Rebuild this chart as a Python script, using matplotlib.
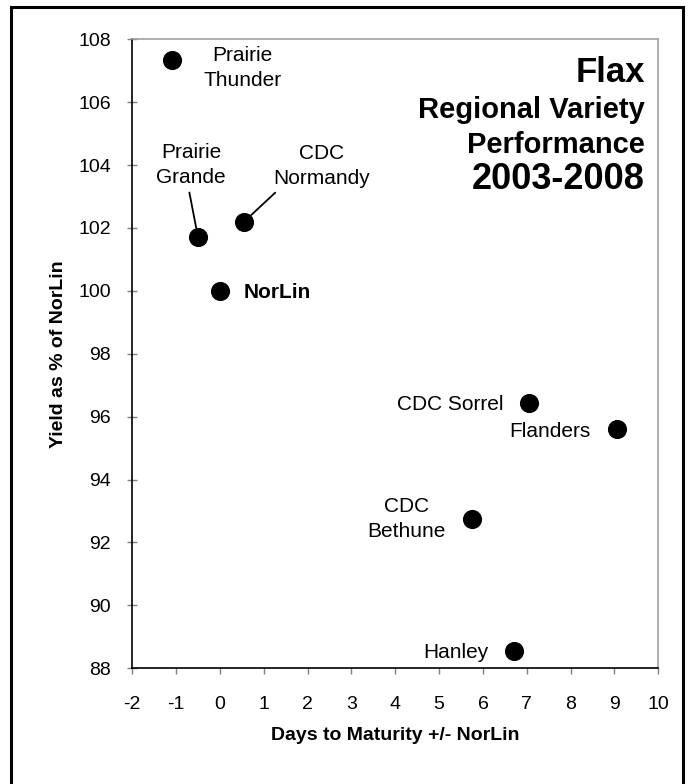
import matplotlib
matplotlib.use("Agg")
import matplotlib.pyplot as plt
from matplotlib.patches import Rectangle

plt.rcParams["font.family"] = ["Liberation Sans", "DejaVu Sans"]
plt.rcParams["axes.unicode_minus"] = False

# values
varieties = ["Prairie\nThunder", "Prairie\nGrande", "CDC\nNormandy", "NorLin",
             "CDC Sorrel", "Flanders", "CDC\nBethune", "Hanley"]
days = [-1.1, -0.5, 0.55, 0.0, 7.05, 9.05, 5.75, 6.7]
yields = [107.35, 101.7, 102.2, 100.0, 96.45, 95.6, 92.75, 88.55]

x_ticks = list(range(-2, 11))
y_ticks = list(range(88, 109, 2))

title_lines = ["Flax", "Regional Variety", "Performance", "2003-2008"]

# label placement: offset (points), alignment, leader line
label_style = {
    "Prairie\nThunder": dict(xy=(51, -6), ha="center", va="center"),
    "Prairie\nGrande": dict(xy=(-5, 52), ha="center", va="center",
                            lead=dict(relpos=(0.46, 0.0), shrinkA=2, shrinkB=7)),
    "CDC\nNormandy": dict(xy=(56, 40), ha="center", va="center",
                          lead=dict(relpos=(0.07, 0.0), shrinkA=2, shrinkB=7)),
    "NorLin": dict(xy=(17, 0), ha="left", va="center_baseline", bold=True),
    "CDC Sorrel": dict(xy=(-18, 0), ha="right", va="center_baseline"),
    "Flanders": dict(xy=(-19, 0), ha="right", va="center_baseline"),
    "CDC\nBethune": dict(xy=(-47, 0), ha="center", va="center"),
    "Hanley": dict(xy=(-18, 0), ha="right", va="center_baseline"),
}


def draw_labels(ax):
    for name, x, y in zip(varieties, days, yields):
        st = label_style[name]
        arrow = None
        if "lead" in st:
            arrow = dict(arrowstyle="-", color="black", lw=1.3, **st["lead"])
        ax.annotate(name, (x, y), xytext=st["xy"], textcoords="offset points",
                    ha=st["ha"], va=st["va"], fontsize=15, linespacing=1.38,
                    fontweight="bold" if st.get("bold") else "normal",
                    arrowprops=arrow)


def main():
    fig = plt.figure(figsize=(6.88, 7.84), dpi=100)
    ax = fig.add_axes([0.1923, 0.1476, 0.7645, 0.8023])

    ax.scatter(days, yields, s=190, color="black", linewidths=0, zorder=3)
    draw_labels(ax)

    ax.set_xlim(-2, 10)
    ax.set_ylim(88, 108)
    ax.set_xticks(x_ticks)
    ax.set_yticks(y_ticks)
    ax.tick_params(axis="y", direction="inout", length=7, width=1,
                   color="#808080", labelsize=14, pad=12)
    ax.tick_params(axis="x", direction="out", length=4, width=1,
                   color="#808080", labelsize=14, pad=16)

    for side in ("left", "bottom"):
        ax.spines[side].set_color("black")
        ax.spines[side].set_linewidth(1.2)
    for side in ("top", "right"):
        ax.spines[side].set_color("#a0a0a0")
        ax.spines[side].set_linewidth(1.2)

    ax.set_xlabel("Days to Maturity +/- NorLin", fontsize=14,
                  fontweight="bold", labelpad=10)
    ax.set_ylabel("Yield as % of NorLin", fontsize=14,
                  fontweight="bold", labelpad=8)

    sizes = [25, 21, 21, 26]
    ys = [0.9326, 0.8749, 0.8188, 0.7612]
    for line, fs, yy in zip(title_lines, sizes, ys):
        ax.text(0.9747, yy, line, transform=ax.transAxes, ha="right",
                va="baseline", fontsize=fs, fontweight="bold")

    # outer frame around the whole picture
    fig.add_artist(Rectangle((0.016, -0.02), 0.9767, 1.011, transform=fig.transFigure,
                             fill=False, edgecolor="black", linewidth=2.2))

    fig.savefig("out.png", dpi=100)


main()
